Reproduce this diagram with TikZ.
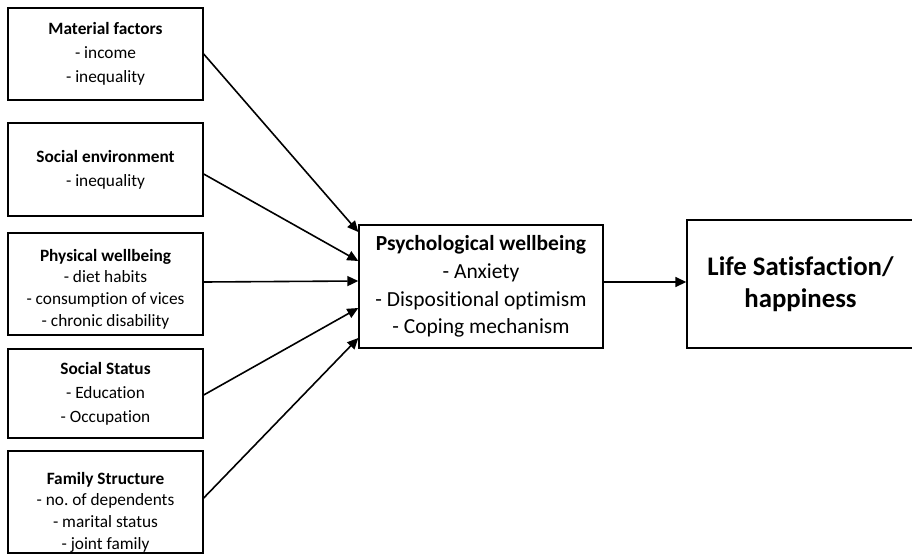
\documentclass[tikz,border=0pt]{standalone}
\usepackage{fontspec}
\setmainfont{Carlito}[Ligatures=NoCommon]
\usetikzlibrary{arrows.meta}
\frenchspacing

\tikzset{
  factor/.style={draw, line width=1.4pt, minimum width=195pt, inner sep=0pt,
    align=center, font=\fontsize{17.3}{24}\selectfont},
  inside/.style={align=center, inner sep=0pt, font=\fontsize{17.3}{21.7}\selectfont},
  middle/.style={draw, line width=1.4pt, minimum width=244pt, minimum height=123pt,
    inner sep=0pt, align=center, font=\fontsize{21.5}{27.7}\selectfont},
  outcome/.style={draw, line width=1.4pt, minimum width=227pt, minimum height=128pt,
    inner sep=0pt, align=center, font=\bfseries\fontsize{26.8}{32}\selectfont}
}

\begin{document}
\begin{tikzpicture}[x=1pt, y=-1pt, ->, >={Triangle[length=11pt, width=10pt]}, line width=1.6pt]
		\useasboundingbox (0,0) rectangle (912,554);
		
		% left column
		\node[factor, minimum height=92pt] (mat) at (105.5, 54) {\textbf{Material factors}\\- income\\- inequality};
		\node[factor, minimum height=93pt] (soc) at (105.5, 169.5) {\textbf{Social environment}\\- inequality};
		\node[factor, minimum height=102pt, label={[inside, yshift=-5pt]center:{\textbf{Physical wellbeing}\\- diet habits\\- consumption of vices\\- chronic disability}}] (phy) at (105.5, 284) {};
		\node[factor, minimum height=89pt] (sta) at (105.5, 393.5) {\textbf{Social Status}\\- Education\\- Occupation};
		\node[factor, minimum height=102pt, label={[inside, yshift=-10pt]center:{\textbf{Family Structure}\\- no. of dependents\\- marital status\\- joint family}}] (fam) at (105.5, 502) {};
		
		\node[middle] (psy) at (481, 286.5) {\textbf{Psychological wellbeing}\\- Anxiety\\- Dispositional optimism\\- Coping mechanism};
		\node[outcome] (life) at (800.5, 284) {Life Satisfaction/\\happiness};
		
		\path (mat.east) edge ([yshift=54.5pt]psy.west)
			([yshift=-4.5pt]soc.east) edge ([yshift=25.5pt]psy.west)
			([yshift=2pt]phy.east) edge ([yshift=5.5pt]psy.west)
			([yshift=-1.5pt]sta.east) edge ([yshift=-21.5pt]psy.west)
			([yshift=4pt]fam.east) edge ([yshift=-51.5pt]psy.west)
			([yshift=4.5pt]psy.east) edge ([yshift=4.5pt]psy.east -| life.west);
	\end{tikzpicture}
\end{document}
